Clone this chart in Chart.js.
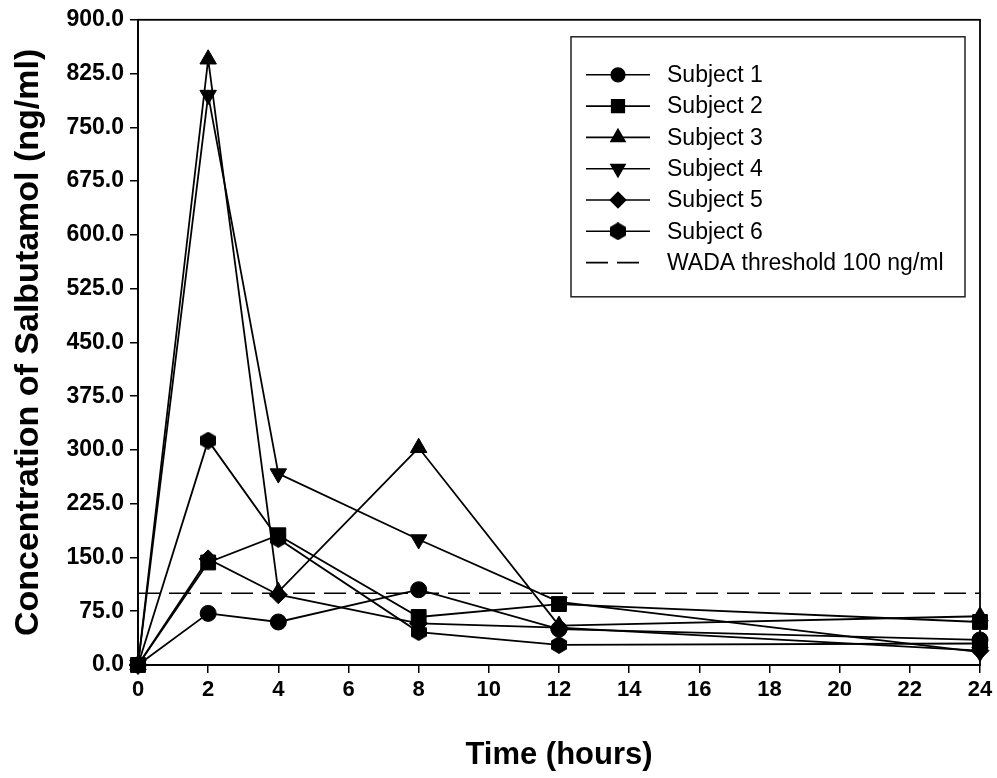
<!DOCTYPE html>
<html>
<head>
<meta charset="utf-8">
<script src="https://cdn.jsdelivr.net/npm/chart.js@4.4.1/dist/chart.umd.min.js"></script>
<style>
  html, body { margin: 0; padding: 0; background: #fff; }
</style>
</head>
<body>
<canvas id="canvas-salbutamol" width="997" height="778"></canvas>
<script>
// sampling times (hours)
const hours = [0, 2, 4, 8, 12, 24];

// salbutamol concentration, ng/ml
const subject1 = [0, 72, 60, 105, 50, 35];
const subject2 = [0, 143, 181, 67, 85, 60];
const subject3 = [0, 845, 102, 303, 55, 68];
const subject4 = [0, 795, 267, 175, 88, 18];
const subject5 = [0, 148, 98, 58, 52, 20];
const subject6 = [0, 313, 176, 46, 28, 30];

const wadaThreshold = 100;
const thresholdSpan = [0, 24];

const subjectNames = ['Subject 1', 'Subject 2', 'Subject 3', 'Subject 4', 'Subject 5', 'Subject 6'];
const thresholdName = 'WADA threshold 100 ng/ml';

const yMin = 0, yMax = 900, yStep = 75;
const xMin = 0, xMax = 24, xStep = 2;

// hexagon marker (pointy top), no built-in style for it
function makeHexagon(w, h) {
  const c = document.createElement('canvas');
  c.width = w; c.height = h;
  const g = c.getContext('2d');
  g.fillStyle = '#000';
  g.beginPath();
  g.moveTo(w / 2, 0);
  g.lineTo(w, h * 0.26);
  g.lineTo(w, h * 0.74);
  g.lineTo(w / 2, h);
  g.lineTo(0, h * 0.74);
  g.lineTo(0, h * 0.26);
  g.closePath();
  g.fill();
  return c;
}
const hexagon = makeHexagon(16, 18);

const markers = [
  { style: 'circle', radius: 8, rotation: 0 },
  { style: 'rect', radius: 10.5, rotation: 0 },
  { style: 'triangle', radius: 9.5, rotation: 0 },
  { style: 'triangle', radius: 9.5, rotation: 180 },
  { style: 'rectRot', radius: 9, rotation: 0 },
  { style: hexagon, radius: 9, rotation: 0 }
];

const series = [subject1, subject2, subject3, subject4, subject5, subject6];

const toPoints = (vals) => vals.map((v, i) => ({ x: hours[i], y: v }));

const datasets = series.map((vals, i) => ({
  label: subjectNames[i],
  data: toPoints(vals),
  borderColor: '#000',
  backgroundColor: '#000',
  borderWidth: 1.8,
  pointStyle: markers[i].style,
  pointRadius: markers[i].radius,
  pointRotation: markers[i].rotation,
  pointBorderWidth: 1,
  pointBackgroundColor: '#000',
  pointBorderColor: '#000',
  clip: false
}));

datasets.push({
  label: thresholdName,
  data: thresholdSpan.map(x => ({ x: x, y: wadaThreshold })),
  borderColor: '#000',
  borderWidth: 1.6,
  borderDash: [22, 9],
  pointRadius: 0,
  clip: false
});

// frame round the plot area
const plotFrame = {
  id: 'plotFrame',
  afterDatasetsDraw(chart) {
    const { ctx, chartArea: a } = chart;
    ctx.save();
    ctx.strokeStyle = '#000';
    ctx.lineWidth = 1.8;
    ctx.strokeRect(a.left, a.top, a.right - a.left, a.bottom - a.top);
    ctx.restore();
  }
};

// legend box: line with marker in the middle, like the original
const boxLegend = {
  id: 'boxLegend',
  afterDraw(chart) {
    const { ctx, chartArea: a } = chart;
    const right = a.right - 15, top = a.top + 17;
    const w = 394, h = 260;
    const left = right - w;
    ctx.save();
    ctx.fillStyle = '#fff';
    ctx.fillRect(left, top, w, h);
    ctx.strokeStyle = '#222';
    ctx.lineWidth = 1.5;
    ctx.strokeRect(left, top, w, h);
    ctx.font = '23px "Liberation Sans", Arial, sans-serif';
    ctx.textBaseline = 'middle';
    chart.data.datasets.forEach((ds, i) => {
      const y = top + 38 + i * 31.3;
      ctx.strokeStyle = '#000';
      ctx.lineWidth = 1.6;
      ctx.setLineDash(ds.borderDash || []);
      ctx.beginPath();
      ctx.moveTo(left + 15, y);
      ctx.lineTo(left + (ds.borderDash ? 71 : 79), y);
      ctx.stroke();
      ctx.setLineDash([]);
      if (ds.pointRadius) {
        ctx.fillStyle = '#000';
        Chart.helpers.drawPoint(ctx, {
          pointStyle: ds.pointStyle,
          rotation: ds.pointRotation,
          radius: ds.pointRadius * 0.85,
          borderWidth: 1
        }, left + 47, y);
      }
      ctx.fillStyle = '#000';
      ctx.fillText(ds.label, left + 96, y + 1);
    });
    ctx.restore();
  }
};

new Chart(document.getElementById('canvas-salbutamol'), {
  type: 'line',
  data: { datasets: datasets },
  plugins: [plotFrame, boxLegend],
  options: {
    responsive: false,
    animation: false,
    layout: { padding: { top: 18, right: 17, left: 0, bottom: 0 } },
    plugins: {
      legend: { display: false },
      tooltip: { enabled: false }
    },
    scales: {
      x: {
        type: 'linear',
        min: xMin,
        max: xMax,
        afterFit: (scale) => { scale.height = 113; },
        ticks: {
          stepSize: xStep,
          color: '#000',
          padding: 4,
          maxRotation: 0,
          font: { family: '"Liberation Sans", Arial, sans-serif', size: 22, weight: 'bold' }
        },
        grid: { drawOnChartArea: false, drawTicks: true, tickLength: 8, color: '#000', lineWidth: 1.5 },
        border: { color: '#000', width: 1.8 },
        title: {
          display: true,
          text: 'Time (hours)',
          color: '#000',
          padding: { top: 0, bottom: 4 },
          font: { family: '"Liberation Sans", Arial, sans-serif', size: 31, weight: 'bold' }
        }
      },
      y: {
        min: yMin,
        max: yMax,
        afterFit: (scale) => { scale.width = 138; },
        ticks: {
          stepSize: yStep,
          color: '#000',
          padding: 6,
          callback: (v) => v.toFixed(1),
          font: { family: '"Liberation Sans", Arial, sans-serif', size: 23, weight: 'bold' }
        },
        grid: { drawOnChartArea: false, drawTicks: true, tickLength: 8, color: '#000', lineWidth: 1.5 },
        border: { color: '#000', width: 1.8 },
        title: {
          display: true,
          text: 'Concentration of Salbutamol (ng/ml)',
          color: '#000',
          padding: { top: 8, bottom: 0 },
          font: { family: '"Liberation Sans", Arial, sans-serif', size: 34, weight: 'bold' }
        }
      }
    }
  }
});
</script>
</body>
</html>
